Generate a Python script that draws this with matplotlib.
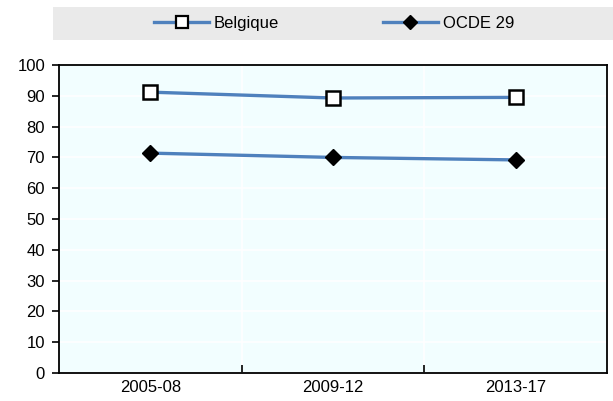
import matplotlib.pyplot as plt
from matplotlib.patches import Rectangle
from matplotlib.lines import Line2D

plt.rcParams['font.family'] = ['Liberation Sans', 'DejaVu Sans']

periods = ["2005-08", "2009-12", "2013-17"]
belgique = [91.2, 89.3, 89.5]
ocde = [71.4, 70.0, 69.2]

line_color = '#4F81BD'

fig = plt.figure(figsize=(6.13, 4.01), dpi=100)
ax = fig.add_axes([0.0962, 0.0698, 0.894, 0.768])
ax.set_facecolor('#F2FEFF')

x = list(range(len(periods)))
ax.plot(x, belgique, color=line_color, lw=2.4, marker='s', ms=10,
        mfc='white', mec='black', mew=1.8, zorder=3)
ax.plot(x, ocde, color=line_color, lw=2.4, marker='D', ms=8.5,
        mfc='black', mec='black', zorder=3)

ax.set_xlim(-0.5, 2.5)
ax.set_ylim(0, 100)
ax.set_yticks(range(0, 101, 10))
ax.set_xticks(x)
ax.set_xticklabels(periods)
ax.set_xticks([0.5, 1.5], minor=True)
ax.tick_params(axis='x', which='major', length=0, labelsize=12, pad=5)
ax.tick_params(axis='x', which='minor', direction='in', length=6, width=1.2, color='black')
ax.tick_params(axis='y', direction='out', length=5, width=1.2, labelsize=12, pad=5)

ax.grid(axis='y', color='white', lw=1.2)
ax.grid(axis='x', which='minor', color='white', lw=1.2)
ax.set_axisbelow(True)
for s in ax.spines.values():
    s.set_color('black')
    s.set_linewidth(1.3)

# legend band
fig.patches.append(Rectangle((0.087, 0.9), 0.913, 0.082, transform=fig.transFigure,
                             facecolor='#EAEAEA', edgecolor='none', zorder=0))
handles = [
    Line2D([], [], color=line_color, lw=2.4, marker='s', ms=8, mfc='white', mec='black', mew=1.6),
    Line2D([], [], color=line_color, lw=2.4, marker='D', ms=7, mfc='black', mec='black'),
]
fig.legend(handles, ["Belgique", "OCDE 29"], ncol=2, frameon=False,
           loc='center', bbox_to_anchor=(0.545, 0.942), fontsize=12,
           handlelength=3.3, handletextpad=0.3, columnspacing=6.2)

fig.savefig('out.png', dpi=100)
